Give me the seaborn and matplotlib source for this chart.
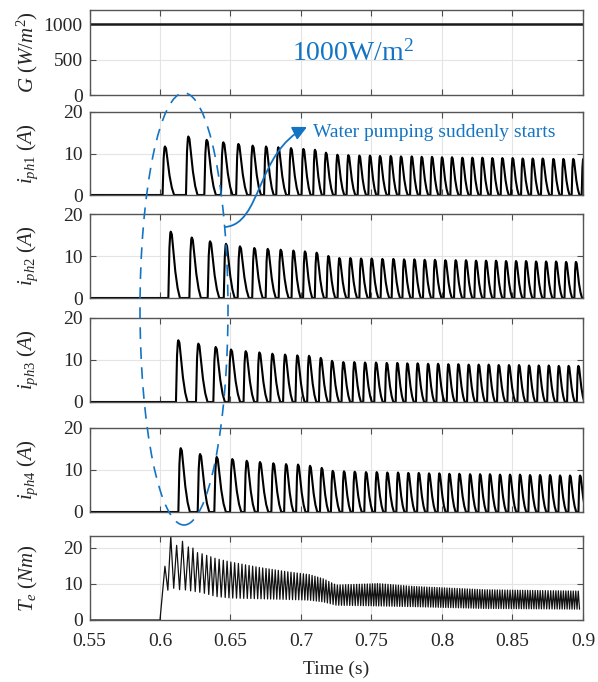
import numpy as np
import matplotlib
matplotlib.use('Agg')
import matplotlib.pyplot as plt
import seaborn as sns
from matplotlib.patches import Ellipse, FancyArrowPatch
from matplotlib.path import Path

# --- data ---
t_start, t_end = 0.55, 0.9
pump_on = 0.6

g_time = [0.55, 0.9]
g_value = [1000, 1000]

# peak time (s) and peak current (A) of each conduction pulse, per phase
ph1_t = [0.6035, 0.6201, 0.6331, 0.6449, 0.6556, 0.6657, 0.6752, 0.6839, 0.6929, 0.7017,
         0.7099, 0.7177, 0.7258, 0.7336, 0.7414, 0.7489, 0.7560, 0.7636, 0.7709, 0.7785,
         0.7856, 0.7929, 0.8000, 0.8071, 0.8144, 0.8215, 0.8286, 0.8357, 0.8428, 0.8501,
         0.8572, 0.8643, 0.8714, 0.8790, 0.8861, 0.8931, 0.9002]
ph1_pk = [11.7, 14.1, 13.3, 12.7, 12.3, 11.9, 11.7, 11.5, 11.3, 11.1,
          10.9, 10.2, 9.7, 9.6, 9.5, 9.5, 9.4, 9.4, 9.3, 9.3,
          9.2, 9.2, 9.1, 9.1, 9.0, 9.0, 9.0, 8.9, 8.9, 8.9,
          8.8, 8.8, 8.8, 8.7, 8.7, 8.7, 8.7]

ph2_t = [0.6076, 0.6225, 0.6355, 0.6468, 0.6567, 0.6669, 0.6764, 0.6856, 0.6946, 0.7028,
         0.7111, 0.7194, 0.7272, 0.7350, 0.7426, 0.7501, 0.7577, 0.7655, 0.7731, 0.7804,
         0.7877, 0.7950, 0.8024, 0.8097, 0.8170, 0.8241, 0.8312, 0.8383, 0.8454, 0.8525,
         0.8596, 0.8667, 0.8738, 0.8809, 0.8880, 0.8950]
ph2_pk = [15.8, 14.4, 13.5, 12.9, 12.3, 11.9, 11.7, 11.5, 11.3, 11.1,
          10.8, 10.0, 9.5, 9.5, 9.4, 9.4, 9.3, 9.3, 9.2, 9.2,
          9.1, 9.1, 9.0, 9.0, 9.0, 8.9, 8.9, 8.9, 8.8, 8.8,
          8.8, 8.7, 8.7, 8.7, 8.6, 8.6]

ph3_t = [0.6130, 0.6272, 0.6395, 0.6504, 0.6608, 0.6705, 0.6797, 0.6887, 0.6974, 0.7057,
         0.7140, 0.7220, 0.7300, 0.7378, 0.7454, 0.7532, 0.7608, 0.7683, 0.7754, 0.7827,
         0.7901, 0.7972, 0.8045, 0.8116, 0.8189, 0.8260, 0.8331, 0.8402, 0.8475, 0.8546,
         0.8617, 0.8686, 0.8757, 0.8828, 0.8898, 0.8967]
ph3_pk = [14.7, 13.9, 13.1, 12.5, 12.1, 11.8, 11.5, 11.3, 11.1, 11.0,
          10.5, 9.8, 9.5, 9.5, 9.4, 9.4, 9.3, 9.3, 9.2, 9.2,
          9.1, 9.1, 9.0, 9.0, 8.9, 8.9, 8.9, 8.8, 8.8, 8.8,
          8.7, 8.7, 8.7, 8.6, 8.6, 8.6]

ph4_t = [0.6147, 0.6284, 0.6402, 0.6513, 0.6615, 0.6709, 0.6804, 0.6894, 0.6979, 0.7064,
         0.7147, 0.7225, 0.7305, 0.7381, 0.7461, 0.7537, 0.7612, 0.7688, 0.7761, 0.7835,
         0.7908, 0.7981, 0.8052, 0.8123, 0.8199, 0.8270, 0.8340, 0.8411, 0.8482, 0.8553,
         0.8624, 0.8695, 0.8766, 0.8837, 0.8908, 0.8979]
ph4_pk = [15.2, 13.8, 13.1, 12.6, 12.2, 11.9, 11.6, 11.4, 11.3, 11.0,
          10.5, 9.8, 9.7, 9.6, 9.5, 9.5, 9.4, 9.4, 9.3, 9.3,
          9.2, 9.2, 9.1, 9.1, 9.0, 9.0, 9.0, 8.9, 8.9, 8.9,
          8.8, 8.8, 8.8, 8.7, 8.7, 8.7]

# torque ripple band: upper (peaks) and lower (troughs) read along time
te_env_t = [0.6031, 0.6076, 0.6118, 0.6158, 0.6196, 0.6232, 0.6265, 0.6296, 0.640, 0.650,
            0.670, 0.690, 0.706, 0.716, 0.725, 0.740, 0.755, 0.780, 0.830, 0.900]
te_env_hi = [14.1, 23.2, 20.7, 21.9, 20.3, 20.0, 18.7, 18.4, 17.0, 16.1,
             14.6, 13.4, 12.6, 11.4, 9.7, 9.9, 10.1, 9.3, 8.4, 8.0]
te_env_lo = [7.0, 9.3, 8.3, 8.5, 8.2, 8.0, 7.8, 7.6, 6.5, 6.1,
             5.9, 5.7, 5.5, 5.0, 4.1, 4.0, 3.9, 3.7, 3.2, 3.0]

# --- pulse outline (shape only, relative to peak) ---
RISE_U = [-1.0, -0.55, -0.2, 0.0]
RISE_A = [0.0, 0.75, 0.97, 1.0]
FALL_U = [0.12, 0.3, 0.5, 0.75, 1.0]
FALL_A = [0.96, 0.7, 0.4, 0.15, 0.0]


def pulse_train(peak_t, peak_v):
    xs, ys = [t_start], [0.0]
    for k, (tp, v) in enumerate(zip(peak_t, peak_v)):
        if k + 1 < len(peak_t):
            period = peak_t[k + 1] - tp
        else:
            period = tp - peak_t[k - 1]
        p = min(period, 0.0105)
        for u, a in zip(RISE_U, RISE_A):
            xs.append(tp + u * 0.16 * p)
            ys.append(a * v)
        for u, a in zip(FALL_U, FALL_A):
            xs.append(tp + u * 0.62 * p)
            ys.append(a * v)
    if xs[-1] < t_end:
        xs.append(t_end)
        ys.append(0.0)
    return xs, ys


def torque_trace():
    # 4 torque humps per phase-1 stroke (one per phase)
    cyc = []
    for i in range(len(ph1_t) - 1):
        for j in range(4):
            cyc.append(ph1_t[i] + j * (ph1_t[i + 1] - ph1_t[i]) / 4)
    cyc = np.array(cyc)
    hi = np.interp(cyc, te_env_t, te_env_hi)
    mid = (cyc[:-1] + cyc[1:]) / 2
    lo = np.interp(mid, te_env_t, te_env_lo)
    xs, ys = [t_start, pump_on], [0.0, 0.0]
    for k in range(len(mid)):
        xs += [cyc[k], mid[k]]
        ys += [hi[k], lo[k]]
    return xs, ys


# --- style ---
sns.set_theme(style='ticks')
plt.rcParams['font.family'] = ['Liberation Serif', 'DejaVu Serif']
plt.rcParams['mathtext.fontset'] = 'custom'
plt.rcParams['mathtext.rm'] = 'Liberation Serif'
plt.rcParams['mathtext.it'] = 'Liberation Serif:italic'
plt.rcParams['mathtext.bf'] = 'Liberation Serif:bold'

W, H = 598, 682
blue = '#1474c4'
fig = plt.figure(figsize=(W / 100, H / 100), dpi=100)

L, R = 89.5, 583
rows = [(10, 95), (112, 195), (214, 298), (318, 402), (428, 512), (536, 620)]
axes = [fig.add_axes([L / W, 1 - b / H, (R - L) / W, (b - t) / H]) for t, b in rows]

# panel 1: irradiance
sns.lineplot(x=g_time, y=g_value, ax=axes[0], color='#1a1a1a', lw=1.8, estimator=None, sort=False)
axes[0].set_ylim(0, 1200)
axes[0].set_yticks([0, 500, 1000])
axes[0].set_ylabel(r'$G\ (W/m^2)$')

# panels 2-5: phase currents
for ax, pt, pv, name in zip(axes[1:5], [ph1_t, ph2_t, ph3_t, ph4_t],
                            [ph1_pk, ph2_pk, ph3_pk, ph4_pk], ['ph1', 'ph2', 'ph3', 'ph4']):
    xs, ys = pulse_train(pt, pv)
    sns.lineplot(x=xs, y=ys, ax=ax, color='black', lw=1.5, estimator=None, sort=False)
    ax.set_ylim(0, 20)
    ax.set_yticks([0, 10, 20])
    ax.set_ylabel(r'$i_{%s}\ (A)$' % name)

# panel 6: torque
xs, ys = torque_trace()
sns.lineplot(x=xs, y=ys, ax=axes[5], color='#111111', lw=0.9, estimator=None, sort=False)
axes[5].set_ylim(0, 23.3)
axes[5].set_yticks([0, 10, 20])
axes[5].set_ylabel(r'$T_e\ (Nm)$')
axes[5].set_xlabel('Time (s)', fontsize=14, labelpad=8)

xt = [0.55, 0.6, 0.65, 0.7, 0.75, 0.8, 0.85, 0.9]
for i, ax in enumerate(axes):
    ax.set_xlim(t_start, t_end)
    ax.set_xticks(xt)
    ax.set_xticklabels(['0.55', '0.6', '0.65', '0.7', '0.75', '0.8', '0.85', '0.9'])
    ax.grid(True, color='#e4e4e4', lw=0.8)
    ax.set_axisbelow(True)
    ax.tick_params(direction='in', length=4, width=0.8, color='#4d4d4d', top=True, right=True,
                   labelsize=14, labelcolor='#262626', pad=5, labelbottom=(i == 5))
    for s in ax.spines.values():
        s.set_color('#555555')
        s.set_linewidth(1.0)
    ax.yaxis.label.set_fontsize(15)
    ax.yaxis.set_label_coords(-0.1, 0.5)
axes[5].tick_params(axis='x', pad=9)

# annotations
fig.text(292 / W, 1 - 61 / H, '1000W/m$^2$', fontsize=20, color=blue, va='baseline')
fig.text(313 / W, 1 - 137 / H, 'Water pumping suddenly starts', fontsize=14, color=blue, va='baseline')

ell = Ellipse((184 / W, 1 - 309 / H), 88 / W, 432 / H, transform=fig.transFigure,
              fill=False, ec=blue, lw=1.2, ls=(0, (7, 5)))
fig.add_artist(ell)

# curved pointer from the ellipse to the caption
pts = [(225, 227), (262, 224), (256, 152), (307, 127)]
arrow_path = Path([(x / W, 1 - y / H) for x, y in pts],
                  [Path.MOVETO, Path.CURVE4, Path.CURVE4, Path.CURVE4])
arrow = FancyArrowPatch(path=arrow_path, transform=fig.transFigure,
                        arrowstyle='-|>', mutation_scale=21, color=blue, lw=1.3)
fig.add_artist(arrow)

plt.savefig('out.png', dpi=100)
plt.close()
